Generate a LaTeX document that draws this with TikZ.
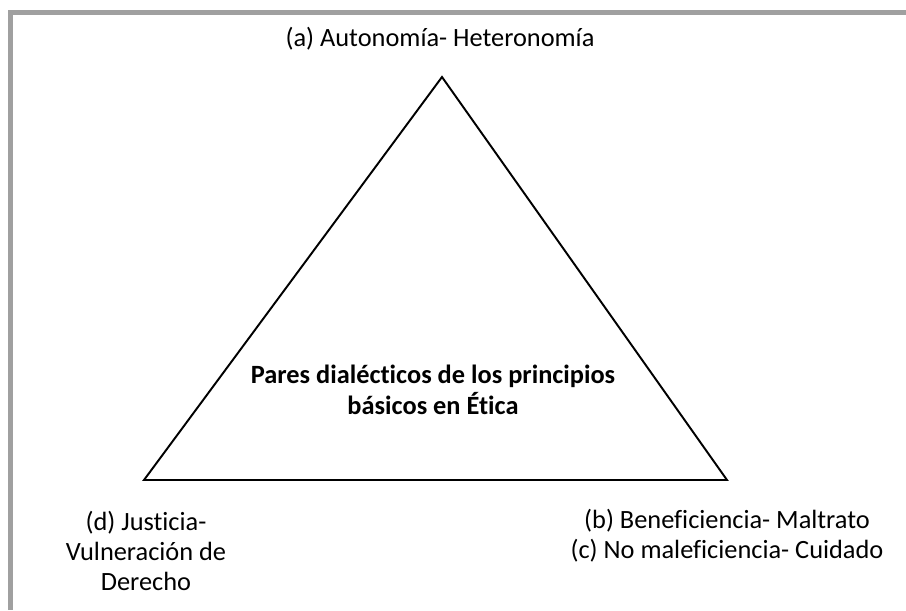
\documentclass[tikz,border=0pt]{standalone}
\usepackage{fontspec}
\setmainfont{Carlito}[Ligatures={NoCommon}]
\definecolor{framegray}{HTML}{A0A0A0}
\begin{document}
\begin{tikzpicture}[
  every node/.style={inner sep=0pt, align=center, font=\fontsize{15}{17}\selectfont},
  side/.style={line width=1.1pt, line join=miter}]
  \useasboundingbox (0,0) rectangle (18.12,12.2);
  \fill[white] (0,0) rectangle (18.12,12.2);
  \draw[framegray, line width=0.1cm] (0.21,0)--(0.21,11.95)--(18.12,11.95);
  \coordinate (apex) at (8.84,10.66);
  \coordinate (left) at (2.88,2.6);
  \coordinate (right) at (14.54,2.6);
  \draw[side] (apex)--(right)--(left)--cycle;
  \node (auto) at (8.8,11.42) {(a) Autonomía- Heteronomía};
  \node[font=\fontsize{15}{17.5}\selectfont\bfseries] (pares) at (8.66,4.4) {Pares dialécticos de los principios\\básicos en Ética};
  \node (bene) at (14.54,1.48) {(b) Beneficiencia- Maltrato\\(c) No maleficiencia- Cuidado};
  \node (just) at (2.92,1.18) {(d) Justicia-\\Vulneración de\\Derecho};
\end{tikzpicture}
\end{document}
